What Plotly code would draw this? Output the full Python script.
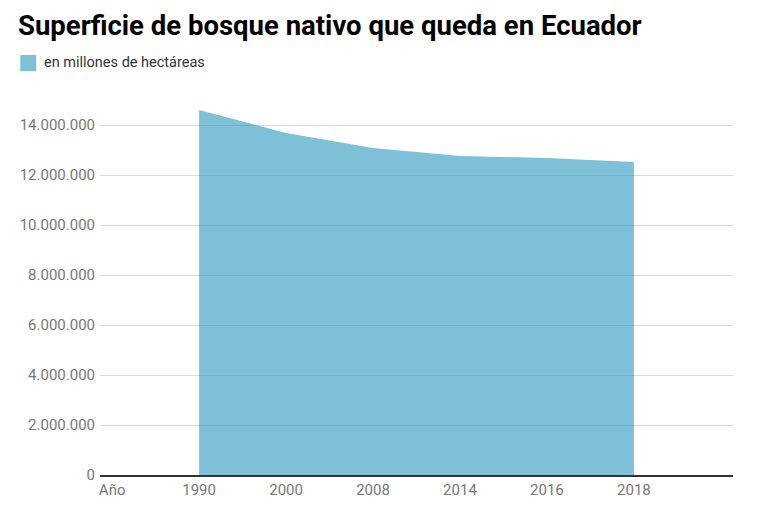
import plotly.graph_objects as go

# Datos (hectáreas)
YEARS = ["Año", "1990", "2000", "2008", "2014", "2016", "2018"]
FOREST = [None, 14600000, 13680000, 13080000, 12760000, 12680000, 12520000]
Y_TICKS = [0, 2000000, 4000000, 6000000, 8000000, 10000000, 12000000, 14000000]

SERIES_NAME = "en millones de hectáreas"
TITLE = "Superficie de bosque nativo que queda en Ecuador"

AREA_COLOR = "rgba(40,150,190,0.6)"
LEGEND_COLOR = "#80c1d9"

x_idx = list(range(len(YEARS)))

fig = go.Figure()

fig.add_trace(go.Scatter(
    x=x_idx,
    y=FOREST,
    mode="lines",
    line=dict(width=0, color=AREA_COLOR),
    fill="tozeroy",
    fillcolor=AREA_COLOR,
    name=SERIES_NAME,
    showlegend=False,
    hoverinfo="skip",
))

# leyenda dibujada a mano (cuadrado + texto), en coordenadas del papel
fig.add_shape(
    type="rect", xref="paper", yref="paper",
    x0=-80 / 635, x1=-64 / 635, y0=404 / 375, y1=420 / 375,
    fillcolor=LEGEND_COLOR, line=dict(width=0),
)
fig.add_annotation(
    text=SERIES_NAME, xref="paper", yref="paper",
    x=-58 / 635, y=412 / 375, xanchor="left", yanchor="middle",
    showarrow=False,
    font=dict(family="Roboto", size=14.5, color="#333"),
)

# la página html añade 8px de margen al body
fig.update_layout(
    width=779,
    height=513,
    margin=dict(l=90, r=54, t=92, b=46),
    paper_bgcolor="white",
    plot_bgcolor="white",
    separators=",.",
    font=dict(family="Roboto", size=14, color="#666"),
    title=dict(
        text=TITLE,
        font=dict(family="Roboto", size=27.5, color="#000", weight="bold"),
        x=10 / 779,
        xanchor="left",
        y=1 - 17 / 513,
        yanchor="middle",
    ),
    showlegend=False,
)

fig.update_xaxes(
    range=[-0.14, len(YEARS) + 0.14],
    tickvals=x_idx,
    ticktext=YEARS,
    showgrid=False,
    showline=True,
    linecolor="#333",
    linewidth=1.5,
    ticks="",
    tickfont=dict(size=15, color="#777"),
    zeroline=False,
)

fig.update_yaxes(
    range=[0, 15000000],
    tickvals=Y_TICKS,
    tickformat=",d",
    showgrid=True,
    gridcolor="#d9d9d9",
    gridwidth=1,
    ticks="",
    ticklabelstandoff=4,
    zeroline=False,
    tickfont=dict(size=15, color="#777"),
)

fig.write_html("out.html")
